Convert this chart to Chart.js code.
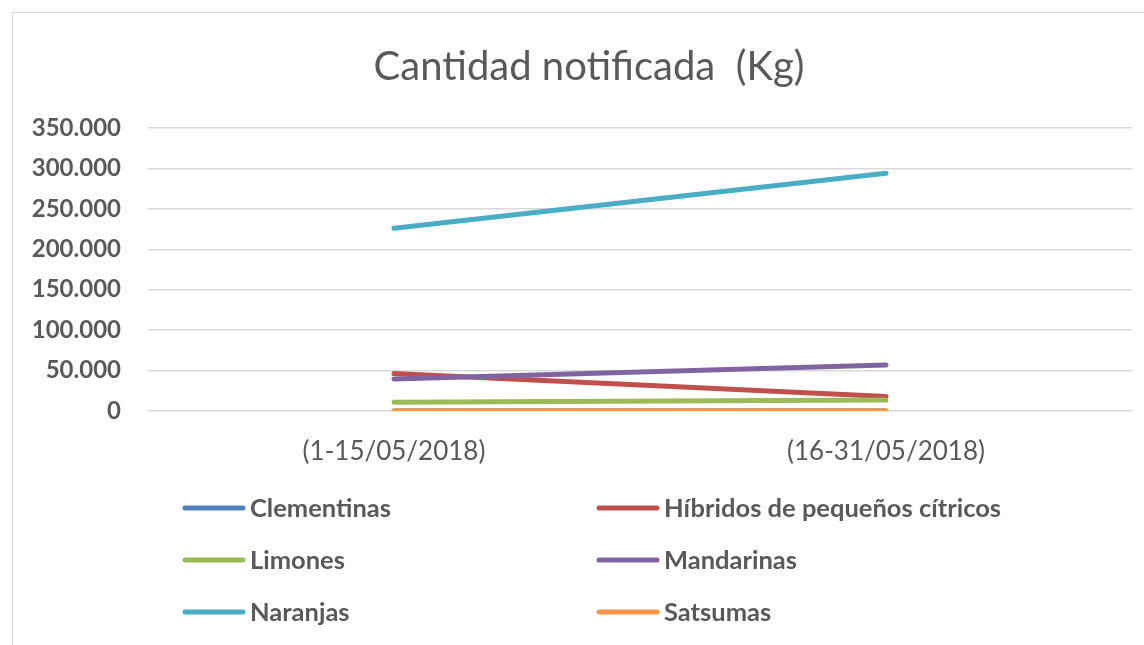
<!DOCTYPE html>
<html>
<head>
<meta charset="utf-8">
<script src="https://cdn.jsdelivr.net/npm/chart.js@4/dist/chart.umd.min.js"></script>
<style>
  html, body { margin: 0; padding: 0; background: #fff; }
  #wrap { position: relative; width: 1144px; height: 645px; overflow: hidden; }
  #frame { position: absolute; left: 12px; top: 12px; width: 1150px; height: 650px; border: 1.5px solid #d9d9d9; box-sizing: border-box; }
  canvas { position: absolute; left: 0; top: 0; }
</style>
</head>
<body>
<div id="wrap">
  <div id="frame"></div>
  <canvas id="c" width="1144" height="645"></canvas>
</div>
<script>
const categories = ['(1-15/05/2018)', '(16-31/05/2018)'];
const seriesNames = ['Clementinas', 'Híbridos de pequeños cítricos', 'Limones', 'Mandarinas', 'Naranjas', 'Satsumas'];
const clementinas = [0, 0];
const hibridos = [46300, 17800];
const limones = [10700, 13600];
const mandarinas = [39700, 57000];
const naranjas = [226000, 294000];
const satsumas = [400, 300];
const seriesColors = ['#4F81BD', '#C0504D', '#9BBB59', '#8064A2', '#4BACC6', '#F79646'];
const yTicks = [0, 50000, 100000, 150000, 200000, 250000, 300000, 350000];

const allValues = [clementinas, hibridos, limones, mandarinas, naranjas, satsumas];
const FONT = 'Lato, "Open Sans", sans-serif';
const TEXT = '#595959';

const datasets = seriesNames.map((name, i) => ({
  label: name,
  data: allValues[i],
  borderColor: seriesColors[i],
  backgroundColor: seriesColors[i],
  borderWidth: 5,
  borderCapStyle: 'round',
  borderJoinStyle: 'round',
  pointRadius: 0,
  pointHoverRadius: 0,
  fill: false,
  tension: 0,
  order: seriesNames.length - i
}));

// shift the title block so it is centred like the reference
const titleShift = {
  id: 'titleShift',
  afterLayout(chart) {
    if (chart.titleBlock) { chart.titleBlock.left += 46; }
  }
};

const legendPlugin = {
  id: 'gridLegend',
  afterDraw(chart) {
    const ctx = chart.ctx;
    const cols = [183, 597];
    const rows = [508, 560, 612];
    ctx.save();
    chart.data.datasets.forEach((ds, i) => {
      const x = cols[i % 2];
      const y = rows[Math.floor(i / 2)];
      ctx.strokeStyle = ds.borderColor;
      ctx.lineWidth = 5;
      ctx.lineCap = 'round';
      ctx.beginPath();
      ctx.moveTo(x + 2, y);
      ctx.lineTo(x + 60, y);
      ctx.stroke();
      ctx.fillStyle = TEXT;
      ctx.font = 'bold 25.5px ' + FONT;
      ctx.textBaseline = 'middle';
      ctx.textAlign = 'left';
      ctx.fillText(ds.label, x + 67, y + 1);
    });
    ctx.restore();
  }
};

new Chart(document.getElementById('c'), {
  type: 'line',
  data: { labels: categories, datasets },
  options: {
    responsive: false,
    animation: false,
    devicePixelRatio: 1,
    layout: { padding: { top: 0, right: 12, bottom: 0, left: 0 } },
    plugins: {
      legend: { display: false },
      tooltip: { enabled: false },
      title: {
        display: true,
        text: 'Cantidad notificada  (Kg)',
        color: TEXT,
        font: { family: FONT, size: 40, weight: 'normal', lineHeight: 1.2 },
        padding: { top: 43, bottom: 37 }
      }
    },
    scales: {
      x: {
        offset: true,
        grid: { display: false, drawTicks: false },
        border: { display: false },
        ticks: { color: TEXT, font: { family: FONT, size: 26 }, padding: 25, maxRotation: 0 },
        afterFit(scale) { scale.height = 234; }
      },
      y: {
        min: 0,
        max: 350000,
        afterBuildTicks(scale) { scale.ticks = yTicks.map(v => ({ value: v })); },
        grid: { color: '#d9d9d9', lineWidth: 1.5, drawTicks: false },
        border: { display: false },
        ticks: {
          color: TEXT,
          font: { family: FONT, size: 24, weight: 'bold' },
          padding: 27,
          callback: v => v === 0 ? '0' : v.toLocaleString('de-DE')
        },
        afterFit(scale) { scale.width = 148; }
      }
    }
  },
  plugins: [titleShift, legendPlugin]
});
</script>
</body>
</html>
